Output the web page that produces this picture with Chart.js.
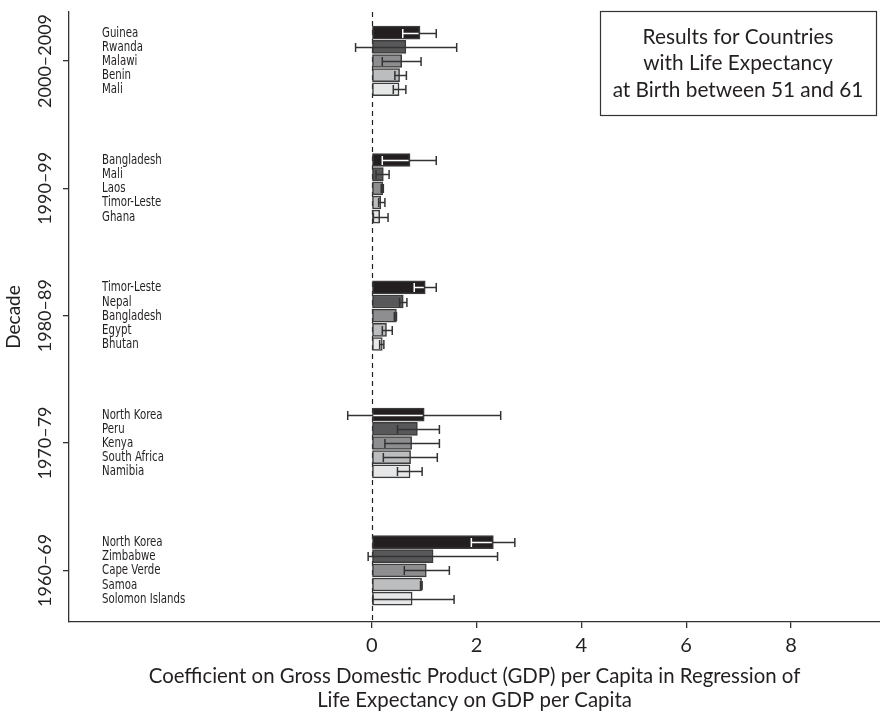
<!DOCTYPE html>
<html>
<head>
<meta charset="utf-8">
<script src="https://cdn.jsdelivr.net/npm/chart.js@4/dist/chart.umd.min.js"></script>
<style>
  html, body { margin: 0; padding: 0; background: #ffffff; }
  #wrap { width: 880px; height: 716px; position: relative; }
</style>
</head>
<body>
<div id="wrap"><canvas id="chart" width="880" height="716"></canvas></div>
<script>
// Decades, top to bottom
const decadeLabels = ['2000\u20132009', '1990\u201399', '1980\u201389', '1970\u201379', '1960\u201369'];

// Five countries per decade, in the order listed within each decade
const countries = [
  'Guinea', 'Rwanda', 'Malawi', 'Benin', 'Mali',
  'Bangladesh', 'Mali', 'Laos', 'Timor-Leste', 'Ghana',
  'Timor-Leste', 'Nepal', 'Bangladesh', 'Egypt', 'Bhutan',
  'North Korea', 'Peru', 'Kenya', 'South Africa', 'Namibia',
  'North Korea', 'Zimbabwe', 'Cape Verde', 'Samoa', 'Solomon Islands'
];

// Regression coefficients
const coefficients = [
  0.92, 0.65, 0.57, 0.53, 0.52,
  0.73, 0.22, 0.21, 0.17, 0.15,
  1.02, 0.60, 0.47, 0.28, 0.20,
  1.00, 0.87, 0.76, 0.74, 0.73,
  2.32, 1.17, 1.04, 0.95, 0.77
];

// Confidence interval bounds
const ciLow = [
  0.59, -0.31, 0.20, 0.44, 0.41,
  0.20, 0.08, 0.18, 0.13, 0.03,
  0.81, 0.53, 0.43, 0.20, 0.15,
  -0.46, 0.49, 0.25, 0.22, 0.49,
  1.90, -0.07, 0.62, 0.93, 0.02
];
const ciHigh = [
  1.23, 1.62, 0.94, 0.66, 0.65,
  1.23, 0.33, 0.22, 0.25, 0.31,
  1.23, 0.67, 0.47, 0.39, 0.23,
  2.46, 1.29, 1.29, 1.25, 0.96,
  2.73, 2.40, 1.48, 0.96, 1.57
];

const xTickValues = [0, 2, 4, 6, 8];

const legendLines = ['Results for Countries', 'with Life Expectancy', 'at Birth between 51 and 61'];
const xTitleLines = ['Coefficient on Gross Domestic Product (GDP) per Capita in Regression of',
                     'Life Expectancy on GDP per Capita'];
const yTitle = 'Decade';

// Layout of rows: each decade block spans 9 rows, the middle bar sits on the decade tick
const ROWS_PER_DECADE = 9;
const PER_DECADE = 5;
const rowOf = i => Math.floor(i / PER_DECADE) * ROWS_PER_DECADE + (i % PER_DECADE) - 2;
const decadeRows = decadeLabels.map((_, d) => d * ROWS_PER_DECADE);

const rankFill = ['#231f20', '#58585a', '#8e8e90', '#bcbdbf', '#e6e7e8'];
const INK = '#231f20';
const MAIN_FONT = 'Lato, "Open Sans", sans-serif';
const NARROW_FONT = '"Liberation Sans Narrow", "DejaVu Sans Condensed", sans-serif';

const points = coefficients.map((v, i) => ({ x: v, y: rowOf(i) }));

const overlay = {
  id: 'overlay',
  beforeDatasetsDraw(chart) {
    const { ctx, chartArea, scales: { x } } = chart;
    const px = Math.round(x.getPixelForValue(0)) + 0.5;
    ctx.save();
    ctx.strokeStyle = INK;
    ctx.lineWidth = 1.2;
    ctx.setLineDash([5, 4]);
    ctx.beginPath();
    ctx.moveTo(px, chartArea.top);
    ctx.lineTo(px, chartArea.bottom);
    ctx.stroke();
    ctx.restore();
  },
  afterDatasetsDraw(chart) {
    const { ctx, chartArea, scales: { x, y } } = chart;
    ctx.save();

    // error bars
    const cap = 4.5;
    const seg = (x0, x1, yy, color) => {
      ctx.strokeStyle = color;
      ctx.beginPath();
      ctx.moveTo(x0, yy);
      ctx.lineTo(x1, yy);
      ctx.stroke();
    };
    const capLine = (xx, yy, color) => {
      ctx.strokeStyle = color;
      ctx.beginPath();
      ctx.moveTo(xx, yy - cap);
      ctx.lineTo(xx, yy + cap);
      ctx.stroke();
    };
    ctx.lineWidth = 1.5;
    coefficients.forEach((v, i) => {
      const yy = Math.round(y.getPixelForValue(rowOf(i))) + 0.5;
      const lo = x.getPixelForValue(ciLow[i]);
      const hi = x.getPixelForValue(ciHigh[i]);
      const dark = '#333333';
      seg(lo, hi, yy, dark);
      capLine(lo, yy, dark);
      capLine(hi, yy, dark);
      if (i % PER_DECADE === 0) {
        // parts lying over the black bar are drawn light
        const b0 = x.getPixelForValue(0);
        const b1 = x.getPixelForValue(v);
        const s0 = Math.max(lo, b0 + 1.5), s1 = Math.min(hi, b1 - 1.5);
        if (s1 > s0) seg(s0, s1, yy, '#ffffff');
        if (ciLow[i] > 0 && ciLow[i] < v) capLine(lo, yy, '#ffffff');
        if (ciHigh[i] < v) capLine(hi, yy, '#ffffff');
      }
    });

    // country names, set in a condensed face
    ctx.fillStyle = INK;
    ctx.font = '13.5px ' + NARROW_FONT;
    ctx.textAlign = 'left';
    ctx.textBaseline = 'middle';
    countries.forEach((c, i) => {
      ctx.save();
      ctx.translate(102, y.getPixelForValue(rowOf(i)) + 0.5);
      ctx.scale(0.84, 1);
      ctx.fillText(c, 0, 0);
      ctx.restore();
    });

    // decade labels and axis title, rotated
    ctx.textAlign = 'center';
    ctx.font = '18px ' + MAIN_FONT;
    decadeLabels.forEach((lab, d) => {
      ctx.save();
      ctx.translate(45, y.getPixelForValue(decadeRows[d]));
      ctx.rotate(-Math.PI / 2);
      ctx.fillText(lab, 0, 0);
      ctx.restore();
    });
    ctx.font = '19px ' + MAIN_FONT;
    ctx.save();
    ctx.translate(14, (chartArea.top + chartArea.bottom) / 2);
    ctx.rotate(-Math.PI / 2);
    ctx.fillText(yTitle, 0, 0);
    ctx.restore();

    // x axis title
    ctx.font = '20.4px ' + MAIN_FONT;
    const cx = (chartArea.left + chartArea.right) / 2;
    ctx.fillText(xTitleLines[0], cx, 676);
    ctx.fillText(xTitleLines[1], cx, 700);

    // boxed note
    ctx.strokeStyle = '#333333';
    ctx.lineWidth = 1.2;
    ctx.strokeRect(600.5, 11.5, 276, 104);
    ctx.font = '20.8px ' + MAIN_FONT;
    legendLines.forEach((t, k) => ctx.fillText(t, 738, 37 + k * 26.5));

    ctx.restore();
  }
};

new Chart(document.getElementById('chart'), {
  type: 'bar',
  data: {
    datasets: [{
      data: points,
      backgroundColor: coefficients.map((_, i) => rankFill[i % PER_DECADE]),
      borderColor: '#3c3c3c',
      borderWidth: 1.5,
      borderSkipped: false,
      barThickness: 13
    }]
  },
  options: {
    indexAxis: 'y',
    responsive: false,
    animation: false,
    events: [],
    layout: { padding: { top: 12, right: 0, bottom: 0, left: 0 } },
    plugins: { legend: { display: false }, tooltip: { enabled: false }, title: { display: false } },
    scales: {
      y: {
        type: 'linear',
        reverse: true,
        offset: false,
        min: -3.46,
        max: 39.65,
        afterBuildTicks: s => { s.ticks = decadeRows.map(v => ({ value: v })); },
        afterFit: s => { s.width = 69; },
        ticks: { display: false },
        grid: { offset: false, drawOnChartArea: false, drawTicks: true, tickLength: 6, color: '#333333', lineWidth: 1.3 },
        border: { display: true, color: '#333333', width: 1.3 }
      },
      x: {
        type: 'linear',
        min: -5.78,
        max: 9.7,
        afterBuildTicks: s => { s.ticks = xTickValues.map(v => ({ value: v })); },
        afterFit: s => { s.height = 94; },
        ticks: {
          color: INK,
          font: { family: MAIN_FONT, size: 20 },
          padding: 6,
          maxRotation: 0,
          callback: v => String(v)
        },
        grid: { drawOnChartArea: false, drawTicks: true, tickLength: 6, color: '#333333', lineWidth: 1.3 },
        border: { display: true, color: '#333333', width: 1.3 }
      }
    }
  },
  plugins: [overlay]
});
</script>
</body>
</html>
